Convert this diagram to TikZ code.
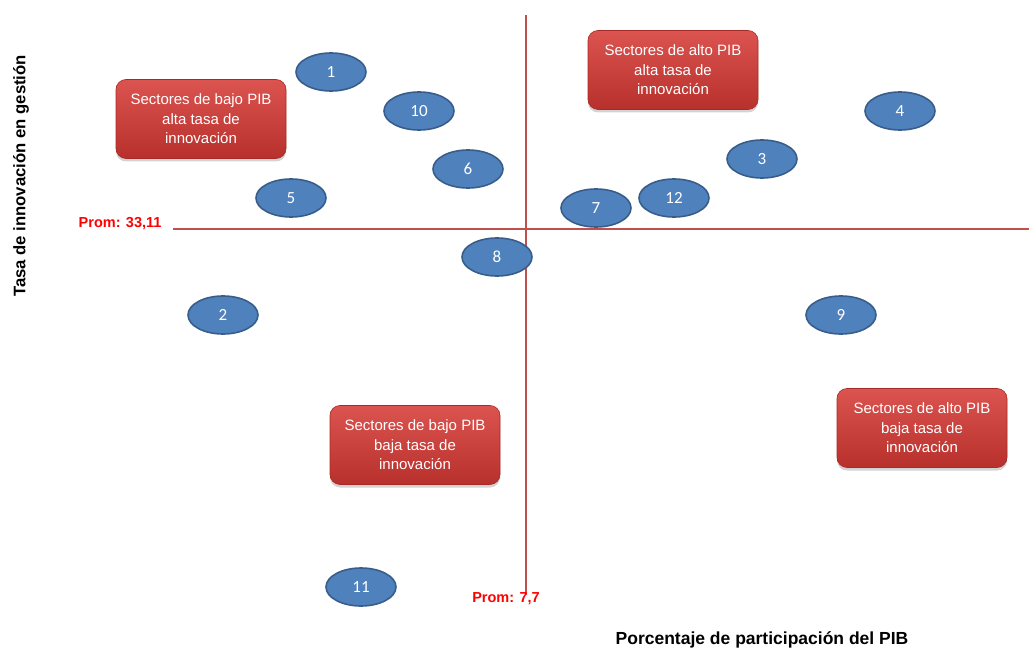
\documentclass[tikz,border=0pt]{standalone}
\usepackage{fontspec}
\setmainfont{Liberation Sans}
\newfontfamily\numfont{Carlito}
\usetikzlibrary{shapes.geometric,shadows}
\definecolor{axisred}{HTML}{C0504D}
\definecolor{dotfill}{HTML}{4F81BD}
\definecolor{dotline}{HTML}{385D8A}
\definecolor{boxtop}{HTML}{DB5450}
\definecolor{boxbot}{HTML}{B8302C}
\definecolor{promred}{HTML}{FF0000}
\begin{document}
\begin{tikzpicture}[x=1pt,y=-1pt,
  sector/.style={ellipse,minimum width=70pt,minimum height=38pt,inner sep=0pt,
    fill=dotfill,draw=dotline,line width=1.6pt,text=white,
    font=\numfont\fontsize{17}{17}\selectfont},
  quadbox/.style={rounded corners=10pt,minimum width=170pt,minimum height=79pt,
    top color=boxtop,bottom color=boxbot,draw=boxbot!90!black,line width=0.6pt,
    text=white,align=center,font=\fontsize{15}{19.5}\selectfont,
    drop shadow={shadow xshift=0pt,shadow yshift=-3pt,opacity=0.35}},
  axis/.style={draw=axisred,line width=2.4pt},
  prom/.style={text=promred,font=\bfseries\fontsize{14.5}{14.5}\selectfont},
  axislabel/.style={font=\bfseries\fontsize{17.5}{17.5}\selectfont}]
\useasboundingbox (0,0) rectangle (1029,650);

% mean lines
\coordinate (vtop) at (526,15);
\coordinate (vbot) at (526,595);
\coordinate (hl) at (173,229);
\coordinate (hr) at (1029,229);
\draw[axis] (vtop) -- (vbot);
\draw[axis] (hl) -- (hr);

\node[prom,anchor=east] (promy) at (165,224) {Prom: 33,11};
\node[prom] (promx) at (506,599) {Prom: 7,7};

% quadrant labels
\node[quadbox] (q1) at (201,119) {Sectores de bajo PIB\\alta tasa de\\innovación};
\node[quadbox] (q2) at (673,70) {Sectores de alto PIB\\alta tasa de\\innovación};
\node[quadbox] (q3) at (415,445) {Sectores de bajo PIB\\baja tasa de\\innovación};
\node[quadbox] (q4) at (922,428) {Sectores de alto PIB\\baja tasa de\\innovación};

% sectors
\node[sector] (s1) at (331,72) {1};
\node[sector] (s10) at (419,111) {10};
\node[sector] (s6) at (468,169) {6};
\node[sector] (s5) at (291,198) {5};
\node[sector] (s8) at (497,257) {8};
\node[sector] (s7) at (596,208) {7};
\node[sector] (s12) at (674,198) {12};
\node[sector] (s3) at (762,159) {3};
\node[sector] (s4) at (900,111) {4};
\node[sector] (s2) at (223,315) {2};
\node[sector] (s9) at (841,315) {9};
\node[sector] (s11) at (361,587) {11};

% axis titles
\node[axislabel,rotate=90,font=\bfseries\fontsize{16.7}{16.7}\selectfont] (ylab) at (21,176) {Tasa de innovación en gestión};
\node[axislabel] (xlab) at (762,640) {Porcentaje de participación del PIB};
\end{tikzpicture}
\end{document}
